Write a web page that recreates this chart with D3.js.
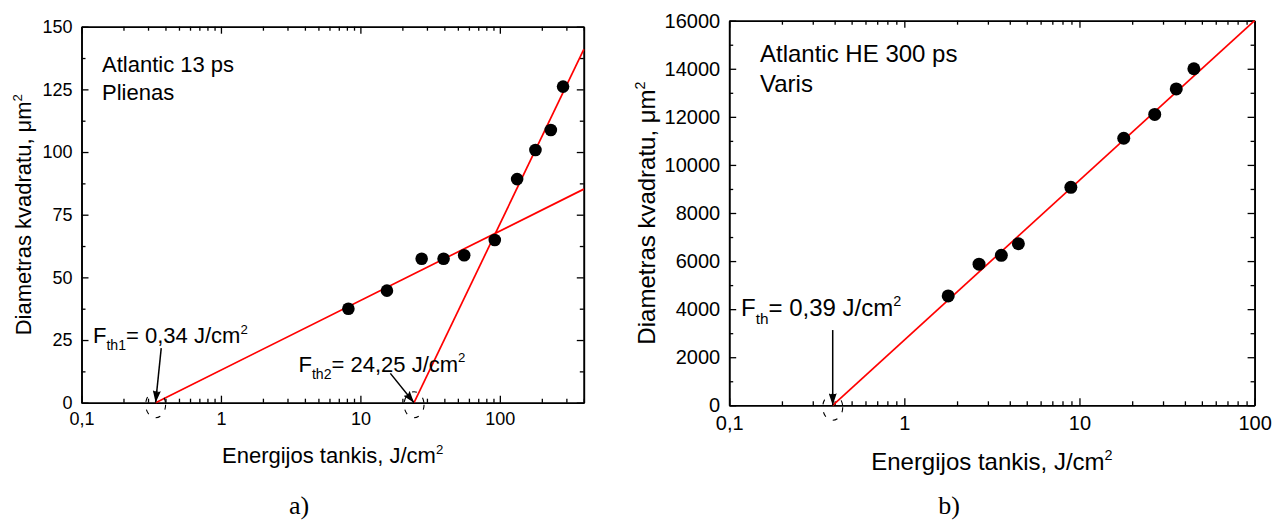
<!DOCTYPE html>
<html>
<head>
<meta charset="utf-8">
<script src="https://cdn.jsdelivr.net/npm/d3@7"></script>
<style>
  body { margin: 0; background: #fff; }
  svg { display: block; }
  text { font-family: "Liberation Sans", Arial, sans-serif; fill: #000; }
  .caption { font-family: "Liberation Serif", "Times New Roman", serif; }
</style>
</head>
<body>
<svg id="chart" width="1273" height="521"></svg>
<script>
// ---- Panel a): Atlantic 13 ps, steel ----
const fluenceA = [8.2, 15.5, 27.5, 39.5, 55.5, 92, 133, 180, 232, 284];
const diamSqA  = [37.5, 44.7, 57.4, 57.4, 58.8, 64.9, 89.2, 100.8, 108.8, 126.1];
const fitLowA  = [[0.34, 0], [400, 85.2]];
const fitHighA = [[24.25, 0], [400, 141]];
const xTicksA = [0.1, 1, 10, 100];
const xTickLabelsA = ["0,1", "1", "10", "100"];
const yTicksA = [0, 25, 50, 75, 100, 125, 150];
const thresholdsA = [
  { value: 0.34, sub: "th1", text: "0,34", tail: [0.373, 21.8] },
  { value: 24.25, sub: "th2", text: "24,25", tail: [16.4, 11.7] }
];

// ---- Panel b): Atlantic HE 300 ps, copper ----
const fluenceB = [1.78, 2.67, 3.58, 4.48, 8.93, 17.9, 26.9, 35.7, 45];
const diamSqB  = [4550, 5870, 6240, 6720, 9070, 11110, 12100, 13160, 14000];
const fitB = [[0.39, 0], [100, 16000]];
const xTicksB = [0.1, 1, 10, 100];
const xTickLabelsB = ["0,1", "1", "10", "100"];
const yTicksB = [0, 2000, 4000, 6000, 8000, 10000, 12000, 14000, 16000];
const thresholdsB = [
  { value: 0.39, sub: "th", text: "0,39", tail: [0.39, 3130] }
];

const svg = d3.select("#chart");

const defs = svg.append("defs");
defs.append("marker")
  .attr("id", "head")
  .attr("markerUnits", "userSpaceOnUse")
  .attr("viewBox", "0 0 12 8")
  .attr("markerWidth", 12).attr("markerHeight", 8)
  .attr("refX", 12).attr("refY", 4)
  .attr("orient", "auto")
  .append("path").attr("d", "M0,0 L12,4 L0,8 L2,4 Z").attr("fill", "#000");

function drawPanel(p) {
  const g = svg.append("g");
  const x = d3.scaleLog().domain(p.xDomain).range([p.left, p.right]);
  const y = d3.scaleLinear().domain(p.yDomain).range([p.bottom, p.top]);

  const xMinor = x.ticks().filter(v => !p.xTicks.some(t => Math.abs(t - v) < 1e-9));
  const yMinor = d3.pairs(p.yTicks).map(([a, b]) => (a + b) / 2);

  const major = 7, minor = 4;
  const fmtX = v => p.xTickLabels[p.xTicks.indexOf(v)];

  function styleAxis(sel, showLabels) {
    sel.select(".domain").attr("stroke", "#000").attr("stroke-width", 1.6);
    sel.selectAll(".tick line").attr("stroke", "#000").attr("stroke-width", 1.3);
    sel.selectAll(".tick text")
      .attr("font-family", "Liberation Sans, Arial, sans-serif")
      .attr("font-size", p.tickFont)
      .attr("fill", "#000");
    if (!showLabels) sel.selectAll(".tick text").remove();
  }

  // bottom
  g.append("g").attr("transform", `translate(0,${p.bottom})`)
    .call(d3.axisBottom(x).tickValues(xMinor).tickSize(-minor).tickSizeOuter(0).tickFormat(""))
    .call(s => styleAxis(s, false));
  g.append("g").attr("transform", `translate(0,${p.bottom})`)
    .call(d3.axisBottom(x).tickValues(p.xTicks).tickSize(-major).tickSizeOuter(0)
      .tickPadding(p.xPad).tickFormat(fmtX))
    .call(s => styleAxis(s, true));
  // top
  g.append("g").attr("transform", `translate(0,${p.top})`)
    .call(d3.axisTop(x).tickValues(xMinor).tickSize(-minor).tickSizeOuter(0).tickFormat(""))
    .call(s => styleAxis(s, false));
  g.append("g").attr("transform", `translate(0,${p.top})`)
    .call(d3.axisTop(x).tickValues(p.xTicks).tickSize(-major).tickSizeOuter(0).tickFormat(""))
    .call(s => styleAxis(s, false));
  // left
  g.append("g").attr("transform", `translate(${p.left},0)`)
    .call(d3.axisLeft(y).tickValues(yMinor).tickSize(-minor).tickSizeOuter(0).tickFormat(""))
    .call(s => styleAxis(s, false));
  g.append("g").attr("transform", `translate(${p.left},0)`)
    .call(d3.axisLeft(y).tickValues(p.yTicks).tickSize(-major).tickSizeOuter(0)
      .tickPadding(p.yPad).tickFormat(d3.format("d")))
    .call(s => styleAxis(s, true));
  // right
  g.append("g").attr("transform", `translate(${p.right},0)`)
    .call(d3.axisRight(y).tickValues(yMinor).tickSize(-minor).tickSizeOuter(0).tickFormat(""))
    .call(s => styleAxis(s, false));
  g.append("g").attr("transform", `translate(${p.right},0)`)
    .call(d3.axisRight(y).tickValues(p.yTicks).tickSize(-major).tickSizeOuter(0).tickFormat(""))
    .call(s => styleAxis(s, false));

  // fit lines
  const line = d3.line().x(d => x(d[0])).y(d => y(d[1]));
  p.fits.forEach(f => {
    g.append("path").attr("d", line(f))
      .attr("fill", "none").attr("stroke", "#ff0000").attr("stroke-width", 1.7);
  });

  // measured points
  g.selectAll("circle.pt").data(p.xs.map((v, i) => [v, p.ys[i]])).enter()
    .append("circle").attr("class", "pt")
    .attr("cx", d => x(d[0])).attr("cy", d => y(d[1]))
    .attr("r", p.dotR).attr("fill", "#000");

  // threshold markers: dashed ring, arrow, label
  p.thresholds.forEach((t, i) => {
    const cx = x(t.value), cy = y(0);
    g.append("ellipse").attr("cx", cx).attr("cy", cy + 2)
      .attr("rx", 10).attr("ry", 13)
      .attr("fill", "none").attr("stroke", "#000").attr("stroke-width", 1.1)
      .attr("stroke-dasharray", "5,8");
    g.append("line")
      .attr("x1", x(t.tail[0])).attr("y1", y(t.tail[1]))
      .attr("x2", cx).attr("y2", cy)
      .attr("stroke", "#000").attr("stroke-width", 1.5)
      .attr("marker-end", "url(#head)");
    const pos = p.fthPos[i];
    const fs = p.annFont;
    const tx = g.append("text").attr("x", pos[0]).attr("y", pos[1]).attr("font-size", fs);
    tx.append("tspan").text("F");
    tx.append("tspan").attr("dy", 0.34 * fs).attr("font-size", fs * 0.64).text(t.sub);
    tx.append("tspan").attr("dy", -0.34 * fs).text("= " + t.text + " J/cm");
    tx.append("tspan").attr("dy", -0.42 * fs).attr("font-size", fs * 0.6).text("2");
  });

  // sample description
  p.info.forEach((s, i) => {
    g.append("text").attr("x", p.infoPos[0]).attr("y", p.infoPos[1] + i * p.infoGap)
      .attr("font-size", p.annFont).text(s);
  });

  // axis titles
  const xt = g.append("text").attr("x", (p.left + p.right) / 2).attr("y", p.xTitleY)
    .attr("text-anchor", "middle").attr("font-size", p.titleFont);
  xt.append("tspan").text("Energijos tankis, J/cm");
  xt.append("tspan").attr("dy", -0.42 * p.titleFont).attr("font-size", p.titleFont * 0.6).text("2");

  const yt = g.append("text")
    .attr("transform", `translate(${p.yTitleX},${(p.top + p.bottom) / 2}) rotate(-90)`)
    .attr("text-anchor", "middle").attr("font-size", p.titleFont);
  yt.append("tspan").text("Diametras kvadratu, \u03bcm");
  yt.append("tspan").attr("dy", -0.42 * p.titleFont).attr("font-size", p.titleFont * 0.6).text("2");

  // panel caption
  g.append("text").attr("class", "caption")
    .attr("x", p.captionX).attr("y", 514).attr("text-anchor", "middle")
    .attr("font-size", 26).text(p.caption);
}

drawPanel({
  left: 81.5, right: 583.8, top: 26.7, bottom: 402.7,
  xDomain: [0.1, 400], yDomain: [0, 150],
  xTicks: xTicksA, xTickLabels: xTickLabelsA, yTicks: yTicksA,
  xs: fluenceA, ys: diamSqA, fits: [fitLowA, fitHighA],
  thresholds: thresholdsA, fthPos: [[93, 343], [298.5, 371.7]],
  info: ["Atlantic 13 ps", "Plienas"], infoPos: [102, 71.5], infoGap: 28.5,
  tickFont: 18, annFont: 22, titleFont: 22, xPad: 10, yPad: 9, dotR: 6.3,
  xTitleY: 463, yTitleX: 31, caption: "a)", captionX: 299
});

drawPanel({
  left: 729.2, right: 1254.6, top: 20.7, bottom: 405.3,
  xDomain: [0.1, 100], yDomain: [0, 16000],
  xTicks: xTicksB, xTickLabels: xTickLabelsB, yTicks: yTicksB,
  xs: fluenceB, ys: diamSqB, fits: [fitB],
  thresholds: thresholdsB, fthPos: [[741, 316]],
  info: ["Atlantic HE 300 ps", "Varis"], infoPos: [760, 62], infoGap: 29.5,
  tickFont: 20, annFont: 24, titleFont: 24, xPad: 10.5, yPad: 9, dotR: 6.5,
  xTitleY: 470, yTitleX: 655, caption: "b)", captionX: 949
});
</script>
</body>
</html>
